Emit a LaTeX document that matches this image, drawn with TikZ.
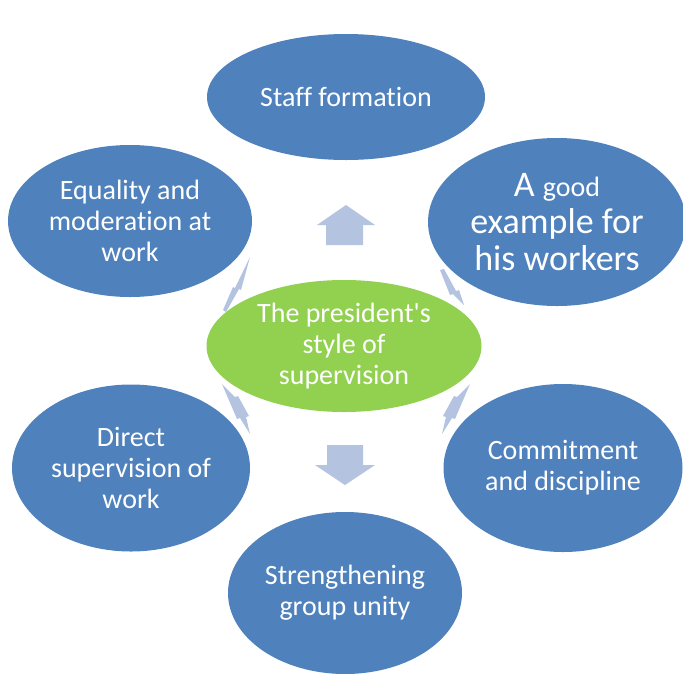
\documentclass[tikz,border=0pt]{standalone}
\usepackage{fontspec}
\setmainfont{Carlito}[Ligatures={TeXOff,CommonOff}]
\usetikzlibrary{shapes.geometric}
\definecolor{ovalblue}{HTML}{4F81BD}
\definecolor{ovalgreen}{HTML}{92D050}
\definecolor{arrowblue}{HTML}{B4C3E0}
\newcommand{\smalltxt}{\fontsize{28}{37}\selectfont}
\begin{document}
\begin{tikzpicture}[x=1pt,y=-1pt,
  oval/.style={ellipse, fill=ovalblue, text=white, align=center, inner sep=0pt,
    font=\fontsize{28}{31}\selectfont},
  hub/.style={oval, fill=ovalgreen},
  blockarrow/.style={fill=arrowblue, draw=none}]
\useasboundingbox (0,0) rectangle (683,673);
% connectors behind the ovals
\fill[blockarrow] (326,245) -- (326,225) -- (317,225) -- (346,205) -- (375,225) -- (363,225) -- (363,245) -- cycle;
\fill[blockarrow] (327,445) -- (363,445) -- (363,465) -- (375,465) -- (345,485) -- (315,465) -- (327,465) -- cycle;
\fill[blockarrow] (223,310) -- (233,287) -- (235,288) -- (250,257) -- (241,290) -- (239,289) -- (226,312) -- cycle;
\fill[blockarrow] (440,270) -- (444,269) -- (456,291) -- (459,290) -- (464,305) -- (453,294) -- (450,295) -- cycle;
\fill[blockarrow] (222,384) -- (235,397) -- (238,396) -- (249,416) -- (246,417) -- (250,434) -- (240,418) -- (237,419) -- cycle;
\fill[blockarrow] (470,384) -- (457,397) -- (454,396) -- (443,416) -- (446,417) -- (442,434) -- (452,418) -- (455,419) -- cycle;
% ovals
\node[oval, minimum width=278pt, minimum height=126pt] (staff) at (346,97) {Staff formation};
\node[oval, minimum width=258pt, minimum height=168pt, font=\fontsize{36}{37}\selectfont] (example) at (557,222)
  {A {\smalltxt good}\\example for\\his workers};
\node[oval, minimum width=244pt, minimum height=152pt] (equality) at (130,221) {Equality and\\moderation at\\work};
\node[oval, minimum width=238pt, minimum height=167pt] (direct) at (131,468) {Direct\\supervision of\\work};
\node[oval, minimum width=239pt, minimum height=168pt] (commit) at (563,468) {Commitment\\and discipline};
\node[oval, minimum width=234pt, minimum height=162pt] (unity) at (345,593) {Strengthening\\group unity};
\node[hub, minimum width=275pt, minimum height=132pt] (hub) at (344,346) {The president's\\style of\\supervision};
\end{tikzpicture}
\end{document}
